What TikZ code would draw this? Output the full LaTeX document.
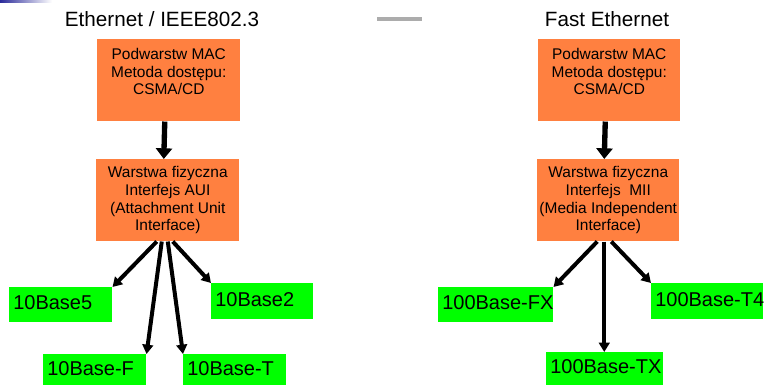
\documentclass[tikz,border=0pt]{standalone}
\usepackage{fontspec}
\setmainfont{Liberation Sans}
\usepackage{tikz}
\usetikzlibrary{calc, arrows.meta}
\usepackage{xcolor}

\definecolor{layerorange}{HTML}{FF8040}
\definecolor{mediagreen}{HTML}{00FF00}
\definecolor{barblue}{HTML}{2A2A9A}
\newdimen\unitpx
\unitpx=0.75pt

\begin{document}
\begin{tikzpicture}[x=\unitpx, y=-\unitpx,
    layer/.style={fill=layerorange, anchor=north west, inner xsep=1pt, inner ysep=0pt,
        align=center, minimum width=143\unitpx, minimum height=82\unitpx,
        font=\fontsize{11.6}{13.3}\selectfont},
    medium/.style={fill=mediagreen, anchor=north west, inner xsep=4\unitpx, inner ysep=0pt,
        align=left, text depth=4\unitpx, font=\fontsize{15}{17}\selectfont},
    heading/.style={anchor=base, font=\fontsize{15.5}{17}\selectfont},
    down/.style={line width=4pt, -{Triangle[width=12pt, length=8pt]}},
    branch/.style={line width=3pt, -{Triangle[width=8pt, length=7pt]}}]

    \useasboundingbox (0,0) rectangle (765,385);

    % Slide decorations
    \shade[left color=barblue, right color=white] (0,0) rectangle (52,3);
    \fill[gray!65] (377,17) rectangle (422,21);

    % Headings
    \node[heading] (titleL) at (162,27) {Ethernet / IEEE802.3};
    \node[heading] (titleR) at (607,27) {Fast Ethernet};

    % Layers, Ethernet
    \node[layer] (macL) at (97,39) {Podwarstw MAC\\Metoda dostępu:\\CSMA/CD\\~};
    \node[layer] (phyL) at (96,159) {Warstwa fizyczna\\Interfejs AUI\\(Attachment Unit\\Interface)};

    % Layers, Fast Ethernet
    \node[layer, minimum width=142\unitpx] (macR) at (538,39) {Podwarstw MAC\\Metoda dostępu:\\CSMA/CD\\~};
    \node[layer, minimum width=142\unitpx] (phyR) at (537,159) {Warstwa fizyczna\\Interfejs~~MII\\(Media Independent\\Interface)};

    % Media, Ethernet
    \node[medium, text width=95\unitpx, minimum height=35\unitpx] (b5) at (9,287) {\mbox{10Base5}};
    \node[medium, text width=94\unitpx, minimum height=36\unitpx] (b2) at (211,283) {\mbox{10Base2}};
    \node[medium, text width=95\unitpx, minimum height=32\unitpx] (bF) at (43,354) {\mbox{10Base-F}};
    \node[medium, text width=95\unitpx, minimum height=32\unitpx] (bT) at (183,354) {\mbox{10Base-T}};

    % Media, Fast Ethernet
    \node[medium, text width=107\unitpx, minimum height=35\unitpx] (fx) at (438,287) {\mbox{100Base-FX}};
    \node[medium, text width=104\unitpx, minimum height=36\unitpx] (t4) at (651,283) {\mbox{100Base-T4}};
    \node[medium, text width=109\unitpx, minimum height=33\unitpx] (tx) at (546,352) {\mbox{100Base-TX}};

    % MAC down to the physical layer
    \draw[down] ($(macL.south)+(-4,0)$) -- ($(phyL.north)+(-4,0)$);
    \draw[down] ($(macR.south)+(-4,0)$) -- ($(phyR.north)+(-4,0)$);

    % Points where the branches leave the physical layer
    \coordinate (out5)  at ($(phyL.south)+(-11,0)$);
    \coordinate (outF)  at ($(phyL.south)+(-6,0)$);
    \coordinate (outT)  at ($(phyL.south)+(0,0)$);
    \coordinate (out2)  at ($(phyL.south)+(5,0)$);
    \coordinate (outFX) at ($(phyR.south)+(-11,0)$);
    \coordinate (outTX) at ($(phyR.south)+(-4,0)$);
    \coordinate (outT4) at ($(phyR.south)+(3,0)$);

    % Branches to the media
    \draw[branch] (out5) -- (b5.north east);
    \draw[branch] (outF) -- (bF.north east);
    \draw[branch] (outT) -- (bT.north west);
    \draw[branch] (out2) -- (b2.north west);
    \draw[branch] (outFX) -- (fx.north east);
    \draw[branch] (outTX) -- (outTX |- tx.north);
    \draw[branch] (outT4) -- (t4.north west);

\end{tikzpicture}
\end{document}
